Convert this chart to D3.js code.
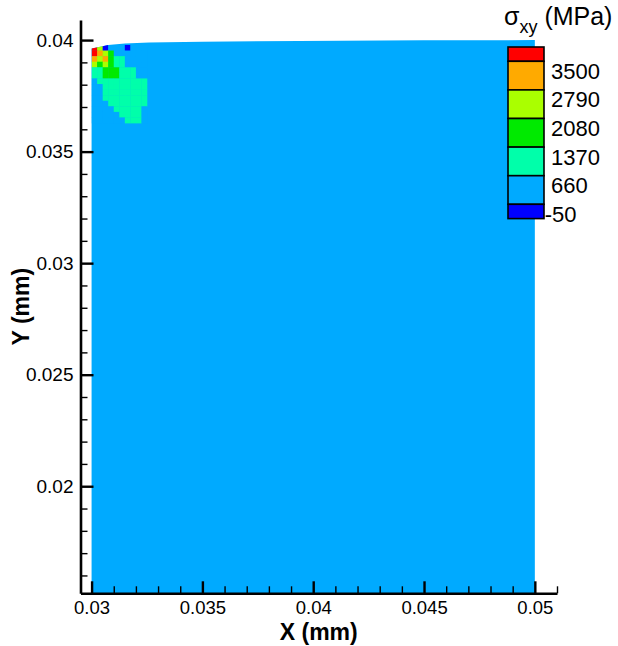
<!DOCTYPE html>
<html>
<head>
<meta charset="utf-8">
<script src="https://cdn.jsdelivr.net/npm/d3@7"></script>
<style>
  html, body { margin: 0; padding: 0; background: #fff; }
  svg { display: block; }
  text { font-family: "Liberation Sans", Arial, Helvetica, sans-serif; fill: #000; }
</style>
</head>
<body>
<svg id="chart" width="618" height="646"></svg>
<script>
// Contour levels of sigma_xy (MPa) and the band colours between them
const levels = [-50, 660, 1370, 2080, 2790, 3500];
const levelLabels = ["-50", "660", "1370", "2080", "2790", "3500"];
const bandColors = ["#0000ff", "#00aaff", "#00ffaa", "#00ea00", "#aaff00", "#ffaa00", "#ff0000"];

// Axis ticks (mm)
const xTicks = [0.03, 0.035, 0.04, 0.045, 0.05];
const xTickLabels = ["0.03", "0.035", "0.04", "0.045", "0.05"];
const yTicks = [0.02, 0.025, 0.03, 0.035, 0.04];
const yTickLabels = ["0.02", "0.025", "0.03", "0.035", "0.04"];

// Deformed top edge of the specimen (x, y in mm)
const topEdge = [
  [0.03, 0.03962], [0.0305, 0.03972], [0.03075, 0.03978], [0.0315, 0.03985],
  [0.0326, 0.03989], [0.035, 0.03993], [0.0394, 0.03996], [0.045, 0.03999], [0.05, 0.04]
];
const specimenLeft = 0.03, specimenRight = 0.05, specimenBottom = 0.0152;

// Bulk stress away from the corner (MPa)
const bulkStress = 300;

// Element stresses near the top-left corner (MPa), rows from the top, columns from x = 0.03
const cellOriginX = 0.03, cellOriginY = 0.03978, cellSize = 0.00025;
const cornerStress = [
  [3620, 2440, -110,  300,  300,  300, -110,  300,  300,  300],
  [3620, 3150, 2440, 1720,  300,  300,  300,  300,  300,  300],
  [3150, 2440, 3150, 1720, 1010, 1010,  300,  300,  300,  300],
  [2440, 1720, 2440, 1720, 1010, 1010,  300,  300,  300,  300],
  [1010, 1010, 1720, 1720, 1720, 1010, 1010, 1010,  300,  300],
  [1010, 1010, 1720, 1720, 1720, 1010, 1010, 1010,  300,  300],
  [ 300, 1010, 1010, 1010, 1010, 1010, 1010, 1010, 1010, 1010],
  [ 300,  300, 1010, 1010, 1010, 1010, 1010, 1010, 1010, 1010],
  [ 300,  300, 1010, 1010, 1010, 1010, 1010, 1010, 1010, 1010],
  [ 300,  300, 1010, 1010, 1010, 1010, 1010, 1010, 1010, 1010],
  [ 300,  300,  300, 1010, 1010, 1010, 1010, 1010, 1010, 1010],
  [ 300,  300,  300,  300, 1010, 1010, 1010, 1010, 1010,  300],
  [ 300,  300,  300,  300,  300, 1010, 1010, 1010, 1010,  300],
  [ 300,  300,  300,  300,  300,  300, 1010, 1010, 1010,  300]
];

const svg = d3.select("#chart");

const x = d3.scaleLinear().domain([0.0295, 0.051]).range([80.5, 557]);
const y = d3.scaleLinear().domain([0.0152, 0.0409]).range([593.3, 20]);
const color = d3.scaleThreshold().domain(levels).range(bandColors);

// Specimen outline
const outline = [[specimenLeft, specimenBottom]].concat(topEdge, [[specimenRight, specimenBottom]]);
const outlinePath = d3.line().x(d => x(d[0])).y(d => y(d[1]))(outline) + "Z";

svg.append("clipPath").attr("id", "specimen").append("path").attr("d", outlinePath);

svg.append("path").attr("d", outlinePath).attr("fill", color(bulkStress));

// Element cells
const cells = [];
cornerStress.forEach((row, r) => row.forEach((v, c) => cells.push({ r, c, v })));
svg.append("g").attr("clip-path", "url(#specimen)")
  .selectAll("rect").data(cells).join("rect")
  .attr("x", d => x(cellOriginX + d.c * cellSize))
  .attr("y", d => y(cellOriginY - d.r * cellSize))
  .attr("width", d => x(cellOriginX + (d.c + 1) * cellSize) - x(cellOriginX + d.c * cellSize) + 0.3)
  .attr("height", d => y(cellOriginY - (d.r + 1) * cellSize) - y(cellOriginY - d.r * cellSize) + 0.3)
  .attr("fill", d => color(d.v));

// Axes
const minor = (lo, hi) => d3.range(Math.round(lo * 1000), Math.round(hi * 1000) + 1).map(k => k / 1000);
const xMinor = minor(0.030, 0.051).filter(v => !xTicks.some(t => Math.abs(t - v) < 1e-9));
const yMinor = minor(0.016, 0.040).filter(v => !yTicks.some(t => Math.abs(t - v) < 1e-9));

const xAxisG = svg.append("g").attr("transform", `translate(0,${y.range()[0]})`);
xAxisG.append("g")
  .call(d3.axisBottom(x).tickValues(xMinor).tickSizeInner(-7).tickSizeOuter(0).tickFormat(""))
  .call(g => g.select(".domain").remove())
  .call(g => g.selectAll("line").attr("stroke", "#000").attr("stroke-width", 1.4));
xAxisG.append("g")
  .call(d3.axisBottom(x).tickValues(xTicks).tickSizeInner(-12).tickSizeOuter(0).tickPadding(8)
    .tickFormat((d, i) => xTickLabels[i]))
  .call(g => g.select(".domain").attr("stroke", "#000").attr("stroke-width", 2.6))
  .call(g => g.selectAll("line").attr("stroke", "#000").attr("stroke-width", 2.4))
  .call(g => g.selectAll("text").attr("font-size", 18.5).attr("font-family", null).attr("fill", "#000"));

const yAxisG = svg.append("g").attr("transform", `translate(${x.range()[0]},0)`);
yAxisG.append("g")
  .call(d3.axisLeft(y).tickValues(yMinor).tickSizeInner(-7).tickSizeOuter(0).tickFormat(""))
  .call(g => g.select(".domain").remove())
  .call(g => g.selectAll("line").attr("stroke", "#000").attr("stroke-width", 1.4));
yAxisG.append("g")
  .call(d3.axisLeft(y).tickValues(yTicks).tickSizeInner(-13).tickSizeOuter(0).tickPadding(7)
    .tickFormat((d, i) => yTickLabels[i]))
  .call(g => g.select(".domain").attr("stroke", "#000").attr("stroke-width", 2.6))
  .call(g => g.selectAll("line").attr("stroke", "#000").attr("stroke-width", 2.4))
  .call(g => g.selectAll("text").attr("font-size", 19).attr("font-family", null).attr("fill", "#000"));

// Axis titles
svg.append("text")
  .attr("x", (x.range()[0] + x.range()[1]) / 2).attr("y", 640)
  .attr("text-anchor", "middle").attr("font-size", 23).attr("font-weight", "bold")
  .text("X (mm)");
svg.append("text")
  .attr("transform", `translate(28.5,${(y.range()[0] + y.range()[1]) / 2}) rotate(-90)`)
  .attr("text-anchor", "middle").attr("font-size", 23).attr("font-weight", "bold")
  .text("Y (mm)");

// Legend
const legendY = d3.scaleLinear().domain([3855, -405]).range([47, 218.6]);
const bandEdges = [3855].concat(levels.slice().reverse(), [-405]);
const legend = svg.append("g");
legend.selectAll("rect").data(d3.range(bandEdges.length - 1)).join("rect")
  .attr("x", 508).attr("width", 36)
  .attr("y", i => legendY(bandEdges[i]))
  .attr("height", i => legendY(bandEdges[i + 1]) - legendY(bandEdges[i]))
  .attr("fill", i => bandColors[bandColors.length - 1 - i])
  .attr("stroke", "#000").attr("stroke-width", 1.6);

const legendFont = 22;
legend.selectAll("text.lvl").data(levels).join("text")
  .attr("class", "lvl")
  .attr("x", 551)
  .attr("y", d => legendY(d) + 17.5)
  .attr("font-size", legendFont)
  .text((d, i) => levelLabels[i])
  .each(function (d) {
    if (d < 0) {
      // hang the minus sign to the left so the digits line up
      const probe = svg.append("text").attr("font-size", legendFont).text("-");
      const w = probe.node().getComputedTextLength();
      probe.remove();
      d3.select(this).attr("x", 551 - w + 1);
    }
  });

const title = svg.append("text").attr("x", 504).attr("y", 25).attr("font-size", 25);
title.append("tspan").text("σ");
title.append("tspan").attr("font-size", 18).attr("dy", 8).text("xy");
title.append("tspan").attr("dy", -8).text(" (MPa)");
</script>
</body>
</html>
